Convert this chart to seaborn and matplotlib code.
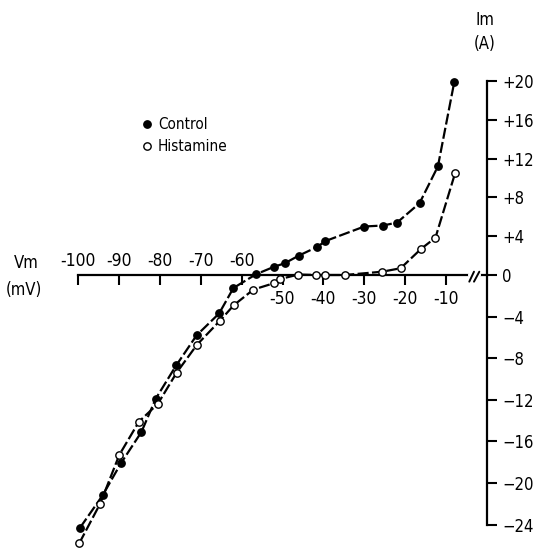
import numpy as np
import pandas as pd
import matplotlib
matplotlib.use('Agg')
import matplotlib.pyplot as plt
import seaborn as sns
from matplotlib import font_manager
from matplotlib.lines import Line2D

sns.set_style("white")
nomes = {f.name for f in font_manager.fontManager.ttflist}
familia = 'Liberation Sans Narrow' if 'Liberation Sans Narrow' in nomes else 'DejaVu Sans'
plt.rcParams['font.family'] = [familia, 'DejaVu Sans']
plt.rcParams['font.stretch'] = 'condensed'
for chave in ['text.color', 'axes.labelcolor', 'xtick.color', 'ytick.color']:
    plt.rcParams[chave] = 'black'

# --- dados (Vm em mV, Im em A) ---
vm_control = [-99.5, -94, -89.5, -84.5, -81, -76, -71, -65.5, -62, -56.5, -52,
              -49.5, -46, -41.5, -39.5, -30, -25.5, -22, -16.5, -12, -8]
im_control = [-24.3, -21.2, -18.1, -15.1, -11.9, -8.7, -5.8, -3.7, -1.25, 0.07, 0.86,
              1.2, 2.0, 2.9, 3.5, 5.0, 5.1, 5.4, 7.4, 11.2, 19.9]
vm_histamine = [-99.7, -94.6, -89.9, -85.1, -80.5, -75.9, -70.9, -65.3, -61.9, -57.1, -52.2,
                -50.7, -46.1, -41.8, -39.6, -34.8, -25.6, -21.1, -16.1, -12.6, -7.8]
im_histamine = [-25.8, -22.0, -17.3, -14.1, -12.4, -9.4, -6.7, -4.4, -2.9, -1.4, -0.8,
                -0.4, 0.05, 0.0, 0.0, 0.0, 0.34, 0.7, 2.7, 3.85, 10.5]

x_ticks = [-100, -90, -80, -70, -60, -50, -40, -30, -20, -10]
x_labels = ['-100', '-90', '-80', '-70', '-60', '-50', '-40', '-30', '-20', '-10']
y_ticks = [20, 16, 12, 8, 4, 0, -4, -8, -12, -16, -20, -24]
y_labels = ['+20', '+16', '+12', '+8', '+4', '0', '\u22124', '\u22128', '\u221212',
            '\u221216', '\u221220', '\u221224']

# escala do eixo de corrente: o desenho original e um pouco mais largo abaixo de zero
POS, NEG = 9.7, 10.4


def fwd(y):
    y = np.asarray(y, float)
    return np.where(y >= 0, y * POS, y * NEG)


def inv(y):
    y = np.asarray(y, float)
    return np.where(y >= 0, y / POS, y / NEG)


df_c = pd.DataFrame({'Vm': vm_control, 'Im': im_control})
df_h = pd.DataFrame({'Vm': vm_histamine, 'Im': im_histamine})

fig = plt.figure(figsize=(5.42, 5.5), dpi=100)
ax = fig.add_axes([0, 0, 1, 1])
ax.set_yscale('function', functions=(fwd, inv))

estilo = dict(color='black', lw=1.6, linestyle=(0, (5, 1.5)), marker='o', markersize=5.3,
              markeredgecolor='black', markeredgewidth=1.0, estimator=None, legend=False, zorder=4)
sns.lineplot(data=df_c, x='Vm', y='Im', ax=ax, markerfacecolor='black', **estilo)
sns.lineplot(data=df_h, x='Vm', y='Im', ax=ax, markerfacecolor='white', **estilo)

ax.set_xlim(-100 - 78 / 4.09, -100 + 464 / 4.09)
ax.set_ylim(-275 / NEG, 275 / POS)
ax.set_xlabel('')
ax.set_ylabel('')

# eixos cruzando em (0, 0)
for lado in ['top', 'left']:
    ax.spines[lado].set_visible(False)
ax.spines['bottom'].set_position(('data', 0))
ax.spines['bottom'].set_bounds(-100, 0)
ax.spines['right'].set_position(('data', 0))
ax.spines['right'].set_bounds(-24, 20)
for lado in ['bottom', 'right']:
    ax.spines[lado].set_linewidth(1.6)
    ax.spines[lado].set_color('black')

ax.set_xticks(x_ticks)
ax.tick_params(axis='x', direction='out', length=7, width=1.5, bottom=True,
               labelbottom=False, color='black')
ax.yaxis.tick_right()
ax.set_yticks(y_ticks)
ax.set_yticklabels(y_labels)
ax.tick_params(axis='y', direction='out', length=7, width=1.5, pad=4, labelsize=12,
               right=True, left=False, labelright=True, labelleft=False, color='black')
ax.yaxis.set_minor_locator(matplotlib.ticker.NullLocator())

# rotulos do eixo de voltagem: acima da linha ate -60, abaixo depois
for v, rot in zip(x_ticks, x_labels):
    dy = 14 if v <= -60 else -24
    ax.annotate(rot, (v, 0), xytext=(0, dy * 0.72), textcoords='offset points',
                ha='center', va='center', fontsize=12.5, annotation_clip=False)

# quebra do eixo
ax.plot([-4.2, -2.0], [0, 0], color='white', lw=3, zorder=3)
ax.plot([-4.33, -3.18], [-0.64, 0.34], color='black', lw=1.4, zorder=3.5)
ax.plot([-3.18, -1.88], [-0.64, 0.34], color='black', lw=1.4, zorder=3.5)

fig.text(26 / 542, 1 - 263 / 550, 'Vm', ha='center', va='center', fontsize=12)
fig.text(24 / 542, 1 - 290 / 550, '(mV)', ha='center', va='center', fontsize=12)
fig.text(485 / 542, 1 - 20 / 550, 'Im', ha='center', va='center', fontsize=12)
fig.text(485 / 542, 1 - 44 / 550, '(A)', ha='center', va='center', fontsize=12)

handles = [Line2D([], [], ls='none', marker='o', ms=5.3, color='black', mfc='black'),
           Line2D([], [], ls='none', marker='o', ms=5.3, color='black', mfc='white', mew=1.0)]
ax.legend(handles, ['Control', 'Histamine'], loc='upper left', frameon=False,
          bbox_to_anchor=(142 / 542, 1 - 117 / 550), bbox_transform=fig.transFigure,
          fontsize=11, handlelength=0.7, handletextpad=0.35, labelspacing=0.45,
          borderpad=0, borderaxespad=0)

fig.savefig('out.png', dpi=100)
